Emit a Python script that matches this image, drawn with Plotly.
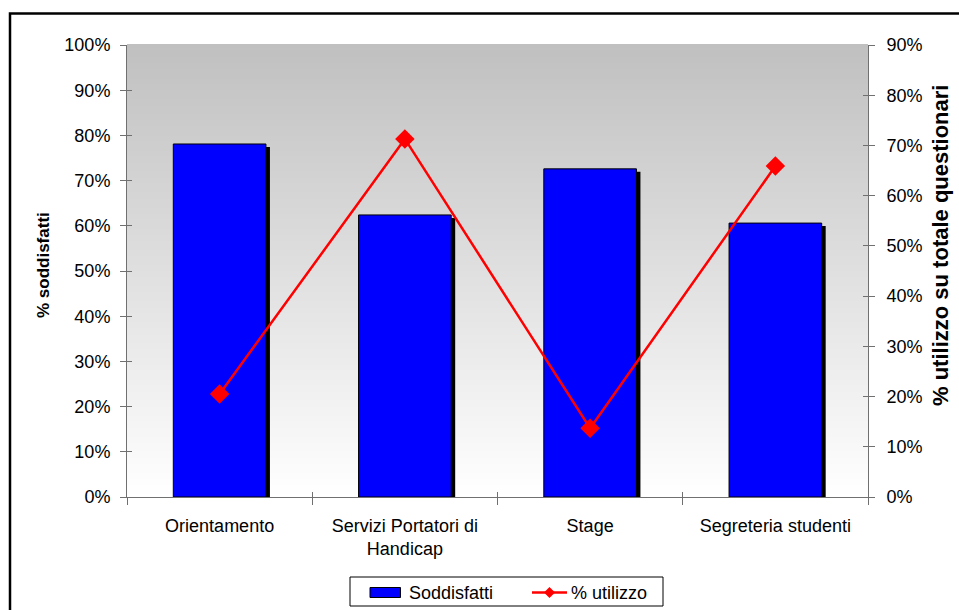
import plotly.graph_objects as go

# Service categories and survey results
categories = ["Orientamento", "Servizi Portatori di<br>Handicap", "Stage", "Segreteria studenti"]
soddisfatti = [0.781, 0.624, 0.726, 0.606]      # share of satisfied users (left axis)
utilizzo = [0.205, 0.713, 0.137, 0.659]         # usage over total questionnaires (right axis)

left_ticks = [i / 10 for i in range(11)]
right_ticks = [i / 10 for i in range(10)]

FONT = "Liberation Sans, Arial, sans-serif"
W, H = 959, 610
ML, MR, MT, MB = 127, 91, 45, 113
PW, PH = W - ML - MR, H - MT - MB


def px(x):
    """pixel x -> paper x"""
    return (x - ML) / PW


def py(y):
    """pixel y -> paper y"""
    return (MT + PH - y) / PH


BAR_W = 0.5
shadow_dx = 4 / (PW / len(categories))   # 4 px to the right, in category units
shadow_dy = 3 / PH                        # 3 px lower, in left-axis units

fig = go.Figure()

# drop shadow behind each bar
fig.add_trace(go.Bar(
    x=categories, y=[v - shadow_dy for v in soddisfatti],
    width=BAR_W, offset=-BAR_W / 2 + shadow_dx,
    marker=dict(color="#000000", line=dict(width=0)),
    showlegend=False, hoverinfo="skip", yaxis="y",
))
# satisfied users
fig.add_trace(go.Bar(
    x=categories, y=soddisfatti, name="Soddisfatti",
    width=BAR_W, offset=-BAR_W / 2,
    marker=dict(color="#0000FF", line=dict(color="#000000", width=1)),
    yaxis="y",
))
# usage share on the secondary axis
fig.add_trace(go.Scatter(
    x=categories, y=utilizzo, name="% utilizzo",
    mode="lines+markers",
    line=dict(color="#FF0000", width=2.5),
    marker=dict(symbol="diamond", size=15, color="#FF0000"),
    yaxis="y2",
))
# empty traces that carry the inner half of the crossing tick marks
fig.add_trace(go.Scatter(x=categories, y=[None] * len(categories), xaxis="x2", yaxis="y3",
                         showlegend=False, hoverinfo="skip"))
fig.add_trace(go.Scatter(x=categories, y=[None] * len(categories), xaxis="x", yaxis="y4",
                         showlegend=False, hoverinfo="skip"))

shapes = []
# vertical grey-to-white background gradient of the plot area
N = 150
for i in range(N):
    t = i / N
    c = int(round(255 - (255 - 192) * (t + 0.5 / N)))
    shapes.append(dict(
        type="rect", xref="paper", yref="paper",
        x0=0, x1=1, y0=t, y1=(i + 1) / N + 0.002,
        fillcolor=f"rgb({c},{c},{c})", line=dict(width=0), layer="below",
    ))
# outer chart frame
shapes.append(dict(
    type="rect", xref="paper", yref="paper",
    x0=px(10), x1=px(W + 10), y0=py(H + 10), y1=py(13.5),
    line=dict(color="#000000", width=2.5), fillcolor="rgba(0,0,0,0)", layer="above",
))

# legend box
shapes.append(dict(type="rect", xref="paper", yref="paper",
                   x0=px(350), x1=px(663), y0=py(606), y1=py(577),
                   line=dict(color="#000000", width=1), fillcolor="#FFFFFF", layer="above"))
shapes.append(dict(type="rect", xref="paper", yref="paper",
                   x0=px(370), x1=px(400.5), y0=py(597.5), y1=py(587.5),
                   line=dict(color="#000000", width=1), fillcolor="#0000FF", layer="above"))
shapes.append(dict(type="line", xref="paper", yref="paper",
                   x0=px(532), x1=px(567), y0=py(592.5), y1=py(592.5),
                   line=dict(color="#FF0000", width=2.5), layer="above"))
dcx, dcy, dr = 549.5, 592.5, 5.5
shapes.append(dict(
    type="path", xref="paper", yref="paper", layer="above",
    path=(f"M {px(dcx)} {py(dcy - dr)} L {px(dcx + dr)} {py(dcy)} "
          f"L {px(dcx)} {py(dcy + dr)} L {px(dcx - dr)} {py(dcy)} Z"),
    fillcolor="#FF0000", line=dict(color="#FF0000", width=0),
))

annotations = [
    dict(text="Soddisfatti", xref="paper", yref="paper", x=px(407), y=py(593),
         xanchor="left", yanchor="middle", showarrow=False,
         font=dict(family=FONT, size=18, color="#000000")),
    dict(text="% utilizzo", xref="paper", yref="paper", x=px(569), y=py(593),
         xanchor="left", yanchor="middle", showarrow=False,
         font=dict(family=FONT, size=18, color="#000000")),
    # axis titles
    dict(text="<b>% soddisfatti</b>", xref="paper", yref="paper", x=px(43), y=py(265),
         xanchor="center", yanchor="middle", textangle=-90, showarrow=False,
         font=dict(family=FONT, size=17, color="#000000")),
    dict(text="<b>% utilizzo su totale questionari</b>", xref="paper", yref="paper",
         x=px(940), y=py(246), xanchor="center", yanchor="middle", textangle=-90,
         showarrow=False, font=dict(family=FONT, size=22, color="#000000")),
]

axis_color = "#707070"
tickfont = dict(family=FONT, size=18, color="#000000")
ghost = dict(showgrid=False, zeroline=False, showline=False, showticklabels=False,
             ticks="inside", ticklen=5, tickcolor=axis_color)

fig.update_layout(
    width=W, height=H,
    margin=dict(l=ML, r=MR, t=MT, b=MB, autoexpand=False),
    paper_bgcolor="#FFFFFF", plot_bgcolor="#FFFFFF",
    barmode="overlay",
    font=dict(family=FONT, size=18, color="#000000"),
    shapes=shapes, annotations=annotations,
    showlegend=False,
    xaxis=dict(
        type="category", categoryarray=categories, categoryorder="array",
        showgrid=False, zeroline=False,
        showline=True, linecolor=axis_color, linewidth=1,
        ticks="outside", tickson="boundaries", ticklen=7, tickcolor=axis_color,
        tickfont=tickfont, ticklabelstandoff=12,
        range=[-0.5, len(categories) - 0.5],
    ),
    xaxis2=dict(
        type="category", categoryarray=categories, categoryorder="array",
        overlaying="x", side="bottom", tickson="boundaries",
        range=[-0.5, len(categories) - 0.5], **ghost,
    ),
    yaxis=dict(
        range=[0, 1], tickvals=left_ticks, tickformat=".0%",
        showgrid=False, zeroline=False,
        showline=True, linecolor=axis_color, linewidth=1,
        ticks="outside", ticklen=6, tickcolor=axis_color,
        tickfont=tickfont, ticklabelstandoff=6,
    ),
    yaxis2=dict(
        range=[0, 0.9], tickvals=right_ticks, tickformat=".0%",
        overlaying="y", side="right",
        showgrid=False, zeroline=False,
        showline=True, linecolor=axis_color, linewidth=1,
        ticks="outside", ticklen=6, tickcolor=axis_color,
        tickfont=tickfont, ticklabelstandoff=8,
    ),
    yaxis3=dict(range=[0, 1], tickvals=left_ticks, overlaying="y", side="left", **ghost),
    yaxis4=dict(range=[0, 0.9], tickvals=right_ticks, overlaying="y", side="right", **ghost),
)

fig.write_html("out.html")
